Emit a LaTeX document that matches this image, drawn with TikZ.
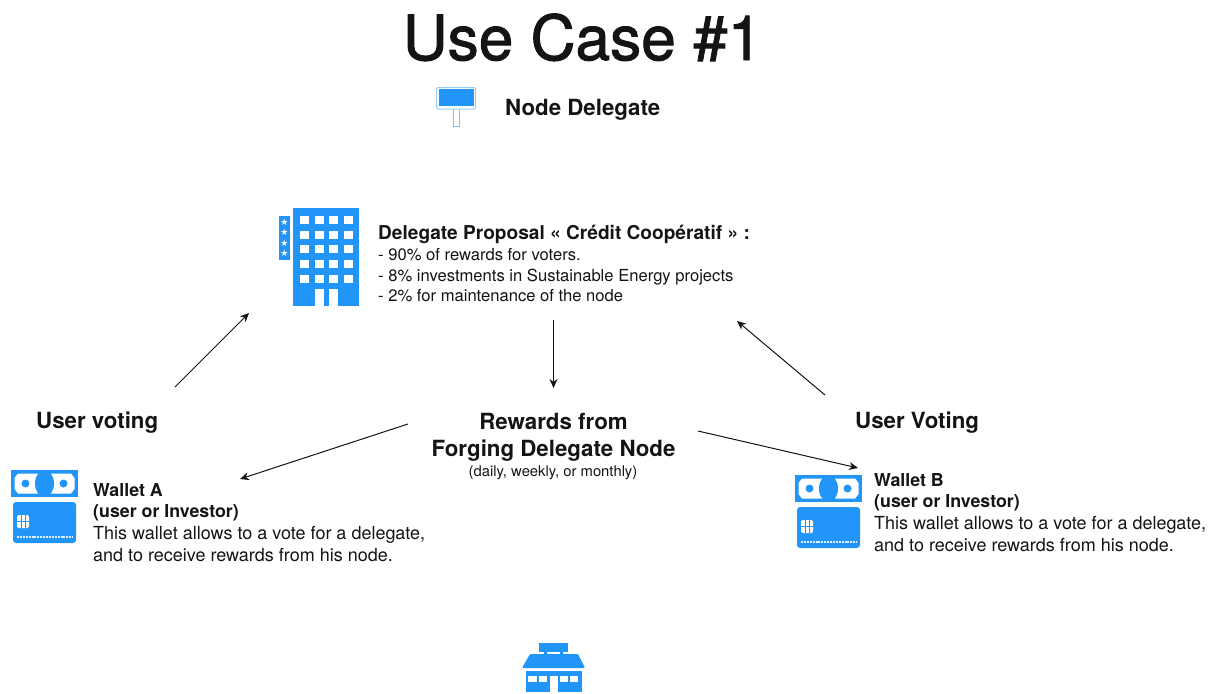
\documentclass[tikz,border=0pt]{standalone}
\usepackage{fontspec}
\setmainfont{TeX Gyre Heros}
\newfontfamily\titlefont[FakeBold=1.5]{TeX Gyre Heros}
\newfontfamily\starfont{DejaVu Sans}
\usetikzlibrary{arrows.meta}
\definecolor{iconblue}{RGB}{33,150,248}
\definecolor{ink}{RGB}{20,20,20}
\tikzset{
    label/.style={inner sep=0pt,anchor=base west,text=ink},
    heading/.style={label,font=\fontsize{22.3}{22.3}\selectfont\bfseries},
    midheading/.style={heading,anchor=base},
    titleline/.style={label,font=\fontsize{19.1}{19.1}\selectfont\bfseries},
    walletline/.style={label,font=\fontsize{17.8}{17.8}\selectfont\bfseries},
    bodyline/.style={label,font=\fontsize{16.6}{16.6}\selectfont},
    walletbody/.style={label,font=\fontsize{18}{18}\selectfont},
    flow/.style={draw=ink,line width=1pt,-{Stealth[length=9pt,width=8pt]}},
    walleticon/.pic={
        %banknote
        \fill[iconblue] (0,0) rectangle (67,27);
        \fill[white] (7,3.5) -- (60,3.5) -- (63.5,8) -- (63.5,19) -- (60,23.5) -- (7,23.5) -- (3.5,19) -- (3.5,8) -- cycle;
        \fill[iconblue] (33.5,13.5) ellipse (9.5 and 13.5);
        \fill[iconblue] (14.5,13.5) circle (4);
        \fill[iconblue] (52.5,13.5) circle (4);
        %card
        \fill[iconblue,rounded corners=3pt] (2,32) rectangle (65,73);
        \fill[white,rounded corners=2pt] (6,45) rectangle (18,58);
        \draw[iconblue,line width=0.5pt] (10,45) -- (10,58) (14,45) -- (14,58) (6,51.5) -- (18,51.5);
        \draw[white!85!iconblue,line width=2pt,dash pattern=on 2pt off 0.9pt] (6,67) -- (62,67);
    }
}

\begin{document}
\begin{tikzpicture}[x=1pt,y=-1pt]
    \useasboundingbox (0,0) rectangle (1214,693);

    %title
    \node[inner sep=0pt,anchor=base,text=ink,font=\fontsize{62.2}{62.2}\selectfont\titlefont] (title) at (582.5,60) {Use Case \#1};

    %billboard
    \draw[iconblue!45,line width=1pt,rounded corners=1pt] (436.5,87.5) rectangle (475.5,109);
    \fill[iconblue] (438.5,89) rectangle (473.5,106);
    \draw[iconblue!60,line width=1pt] (453.5,110) -- (453.5,126) -- (459,126) -- (459,110);
    \node[heading] (delegate) at (505,115) {Node Delegate};

    %building
    \fill[iconblue] (293,208) rectangle (359,306);
    \fill[iconblue] (279,216) rectangle (290,260);
    \foreach \y in {220,234.5,249,263.5,278.5}
    {
        \foreach \x in {304.5,319,333.5,348.5}
        {
            \fill[white] (\x-4.5,\y-4) rectangle (\x+4.5,\y+4);
        }
    }
    \foreach \x in {319,333.5}
    {
        \fill[white] (\x-4.5,289) rectangle (\x+4.5,306);
    }
    \foreach \y [count=\i] in {222.5,232.5,243,253.5}
    {
        \node[inner sep=0pt,text=white,font=\fontsize{9}{9}\selectfont\starfont] (star\i) at (284.5,\y) {★};
    }

    %proposal
    \node[titleline] (proposal) at (378,239.5) {Delegate Proposal « Crédit Coopératif » :};
    \node[bodyline] (voters) at (378,260.7) {- 90\% of rewards for voters.};
    \node[bodyline] (energy) at (378,281.7) {- 8\% investments in Sustainable Energy projects};
    \node[bodyline] (upkeep) at (378,301.7) {- 2\% for maintenance of the node};

    %rewards
    \node[midheading] (rewards) at (553.5,429) {Rewards from};
    \node[midheading] (forging) at (553.5,456) {Forging Delegate Node};
    \node[inner sep=0pt,anchor=base,text=ink,font=\fontsize{14.8}{14.8}\selectfont] (period) at (553,476.7) {(daily, weekly, or monthly)};

    %wallet A
    \node[heading] (votingA) at (36,428) {User voting};
    \pic at (11,470) {walleticon};
    \node[walletline] (walletA) at (93,496) {Wallet A};
    \node[walletline] (ownerA) at (93,517) {(user or Investor)};
    \node[walletbody] (textA) at (93,539) {This wallet allows to a vote for a delegate,};
    \node[walletbody] (moreA) at (93,561) {and to receive rewards from his node.};

    %wallet B
    \node[heading] (votingB) at (855,428) {User Voting};
    \pic at (795,475) {walleticon};
    \node[walletline] (walletB) at (874,486.5) {Wallet B};
    \node[walletline] (ownerB) at (874,507.7) {(user or Investor)};
    \node[walletbody] (textB) at (874,529.5) {This wallet allows to a vote for a delegate,};
    \node[walletbody] (moreB) at (874,551) {and to receive rewards from his node.};

    %shop
    \fill[iconblue] (539,643) rectangle (568,652);
    \fill[iconblue] (544,652) rectangle (547,655) (560,652) rectangle (563,655);
    \fill[iconblue,rounded corners=1pt] (530,654) -- (578,654) -- (585,668) -- (522,668) -- cycle;
    \fill[iconblue] (526,671) rectangle (582,692);
    \foreach \x/\w in {528/9,539/8,560/7.5,570/8}
    {
        \fill[white] (\x,676) rectangle (\x+\w,682);
    }
    \fill[white] (550,676) rectangle (558,692);

    %arrows
    \coordinate (voteAstart) at (175,387);
    \coordinate (voteAend) at (249,313);
    \coordinate (payStart) at (553.5,320);
    \coordinate (payEnd) at (553.5,388);
    \coordinate (voteBstart) at (825,395);
    \coordinate (voteBend) at (737,321);
    \coordinate (shareAstart) at (408,424);
    \coordinate (shareAend) at (240,479);
    \coordinate (shareBstart) at (698,431);
    \coordinate (shareBend) at (858,468);
    \draw[flow] (voteAstart) -- (voteAend);
    \draw[flow] (payStart) -- (payEnd);
    \draw[flow] (voteBstart) -- (voteBend);
    \draw[flow] (shareAstart) -- (shareAend);
    \draw[flow] (shareBstart) -- (shareBend);
\end{tikzpicture}
\end{document}
